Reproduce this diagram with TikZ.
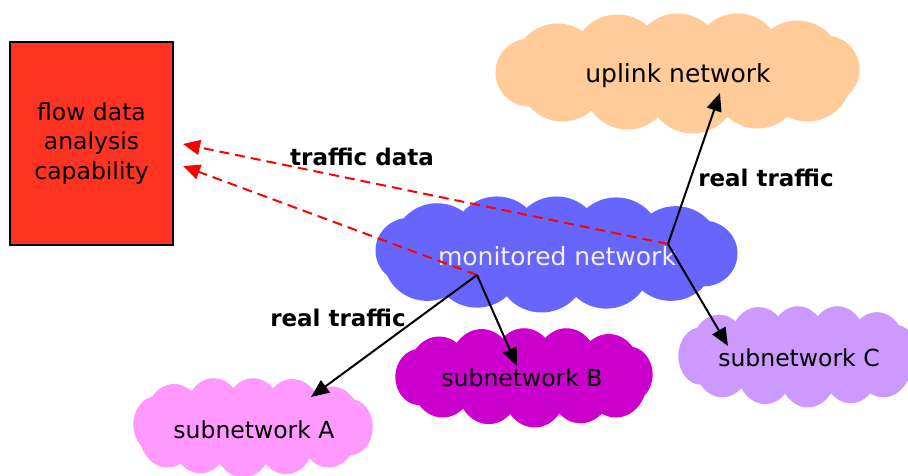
\documentclass[tikz,border=0pt]{standalone}
\usepackage{fontspec}
\setmainfont{DejaVu Sans}
\usetikzlibrary{arrows.meta}
\definecolor{boxred}{HTML}{FF3322}
\definecolor{peach}{HTML}{FFCC99}
\definecolor{monblue}{HTML}{6666FF}
\definecolor{magB}{HTML}{CC00CC}
\definecolor{pinkA}{HTML}{FF99FF}
\definecolor{lilacC}{HTML}{CC99FF}
\definecolor{arrred}{HTML}{FF0000}
\definecolor{montext}{HTML}{F2F0E4}
% cloud built from a base cloud of 365 x 121: centre x, centre y, width, height, colour, mirror (1 or -1)
\newcommand{\puffcloud}[6]{%
  \pgfmathsetmacro\pcXs{#6*#3/365}%
  \pgfmathsetmacro\pcYs{#4/121}%
  \begin{scope}[shift={(#1,#2)}, xscale=\pcXs, yscale=\pcYs]
    \fill[#5] (0,0) ellipse (152 and 44)
      (-120,-5) circle (44)
      (-60,-13) circle (45)
      (0,-15) circle (44)
      (60,-15) circle (44)
      (120,-8) circle (44)
      (-115,5) circle (44)
      (-50,13) circle (44)
      (15,16) circle (45)
      (80,12) circle (44)
      (130,5) circle (44)
      (-148,0) circle (34)
      (148,-3) circle (34);
  \end{scope}%
}
\tikzset{
  cloudtxt/.style={inner sep=0pt, font=\fontsize{25}{30}\selectfont},
  subtxt/.style={inner sep=0pt, font=\fontsize{23.5}{28}\selectfont},
  realarrow/.style={-{Triangle[length=18pt,width=15pt]}, line width=2pt, black},
  dataarrow/.style={-{Triangle[length=17pt,width=15pt]}, line width=2pt, arrred, dash pattern=on 10pt off 6pt},
  lbl/.style={font=\fontsize{23}{28}\selectfont\bfseries}
}
\begin{document}
\begin{tikzpicture}[x=1pt,y=-1pt]
\useasboundingbox (0,0) rectangle (908,475);
\node[draw=black, line width=2pt, fill=boxred, minimum width=163pt, minimum height=203pt, align=center, font=\fontsize{23.5}{29.5}\selectfont] (box) at (91.5,143.5) {flow data\\analysis\\capability};
\puffcloud{677.5}{72.5}{365}{121}{peach}{1}
\puffcloud{556.5}{253.5}{363}{117}{monblue}{-1}
\puffcloud{524}{377}{258}{100}{magB}{1}
\puffcloud{253}{427}{240}{100}{pinkA}{-1}
\puffcloud{798}{356}{240}{102}{lilacC}{1}
\node[cloudtxt] (up) at (678,76) {uplink network};
\node[cloudtxt, text=montext] (mon) at (557,256) {monitored network};
\node[subtxt] (sB) at (522,378) {subnetwork B};
\node[subtxt] (sA) at (254,430) {subnetwork A};
\node[subtxt] (sC) at (799,358) {subnetwork C};
\coordinate (j1) at (668,244);
\coordinate (j2) at (477,275);
\coordinate (tU) at (720,93);
\coordinate (tC) at (728,346);
\coordinate (tB) at (517,366);
\coordinate (tA) at (311,397);
\coordinate (r1) at (183,144);
\coordinate (r2) at (183,166);
\draw[dataarrow] (j1) -- (r1);
\draw[dataarrow] (j2) -- (r2);
\draw[realarrow] (j1) -- (tU);
\draw[realarrow] (j1) -- (tC);
\draw[realarrow] (j2) -- (tB);
\draw[realarrow] (j2) -- (tA);
\node[lbl] (l1) at (362,157) {traffic data};
\node[lbl] (l2) at (766,178) {real traffic};
\node[lbl] (l3) at (338,318) {real traffic};
\end{tikzpicture}
\end{document}
